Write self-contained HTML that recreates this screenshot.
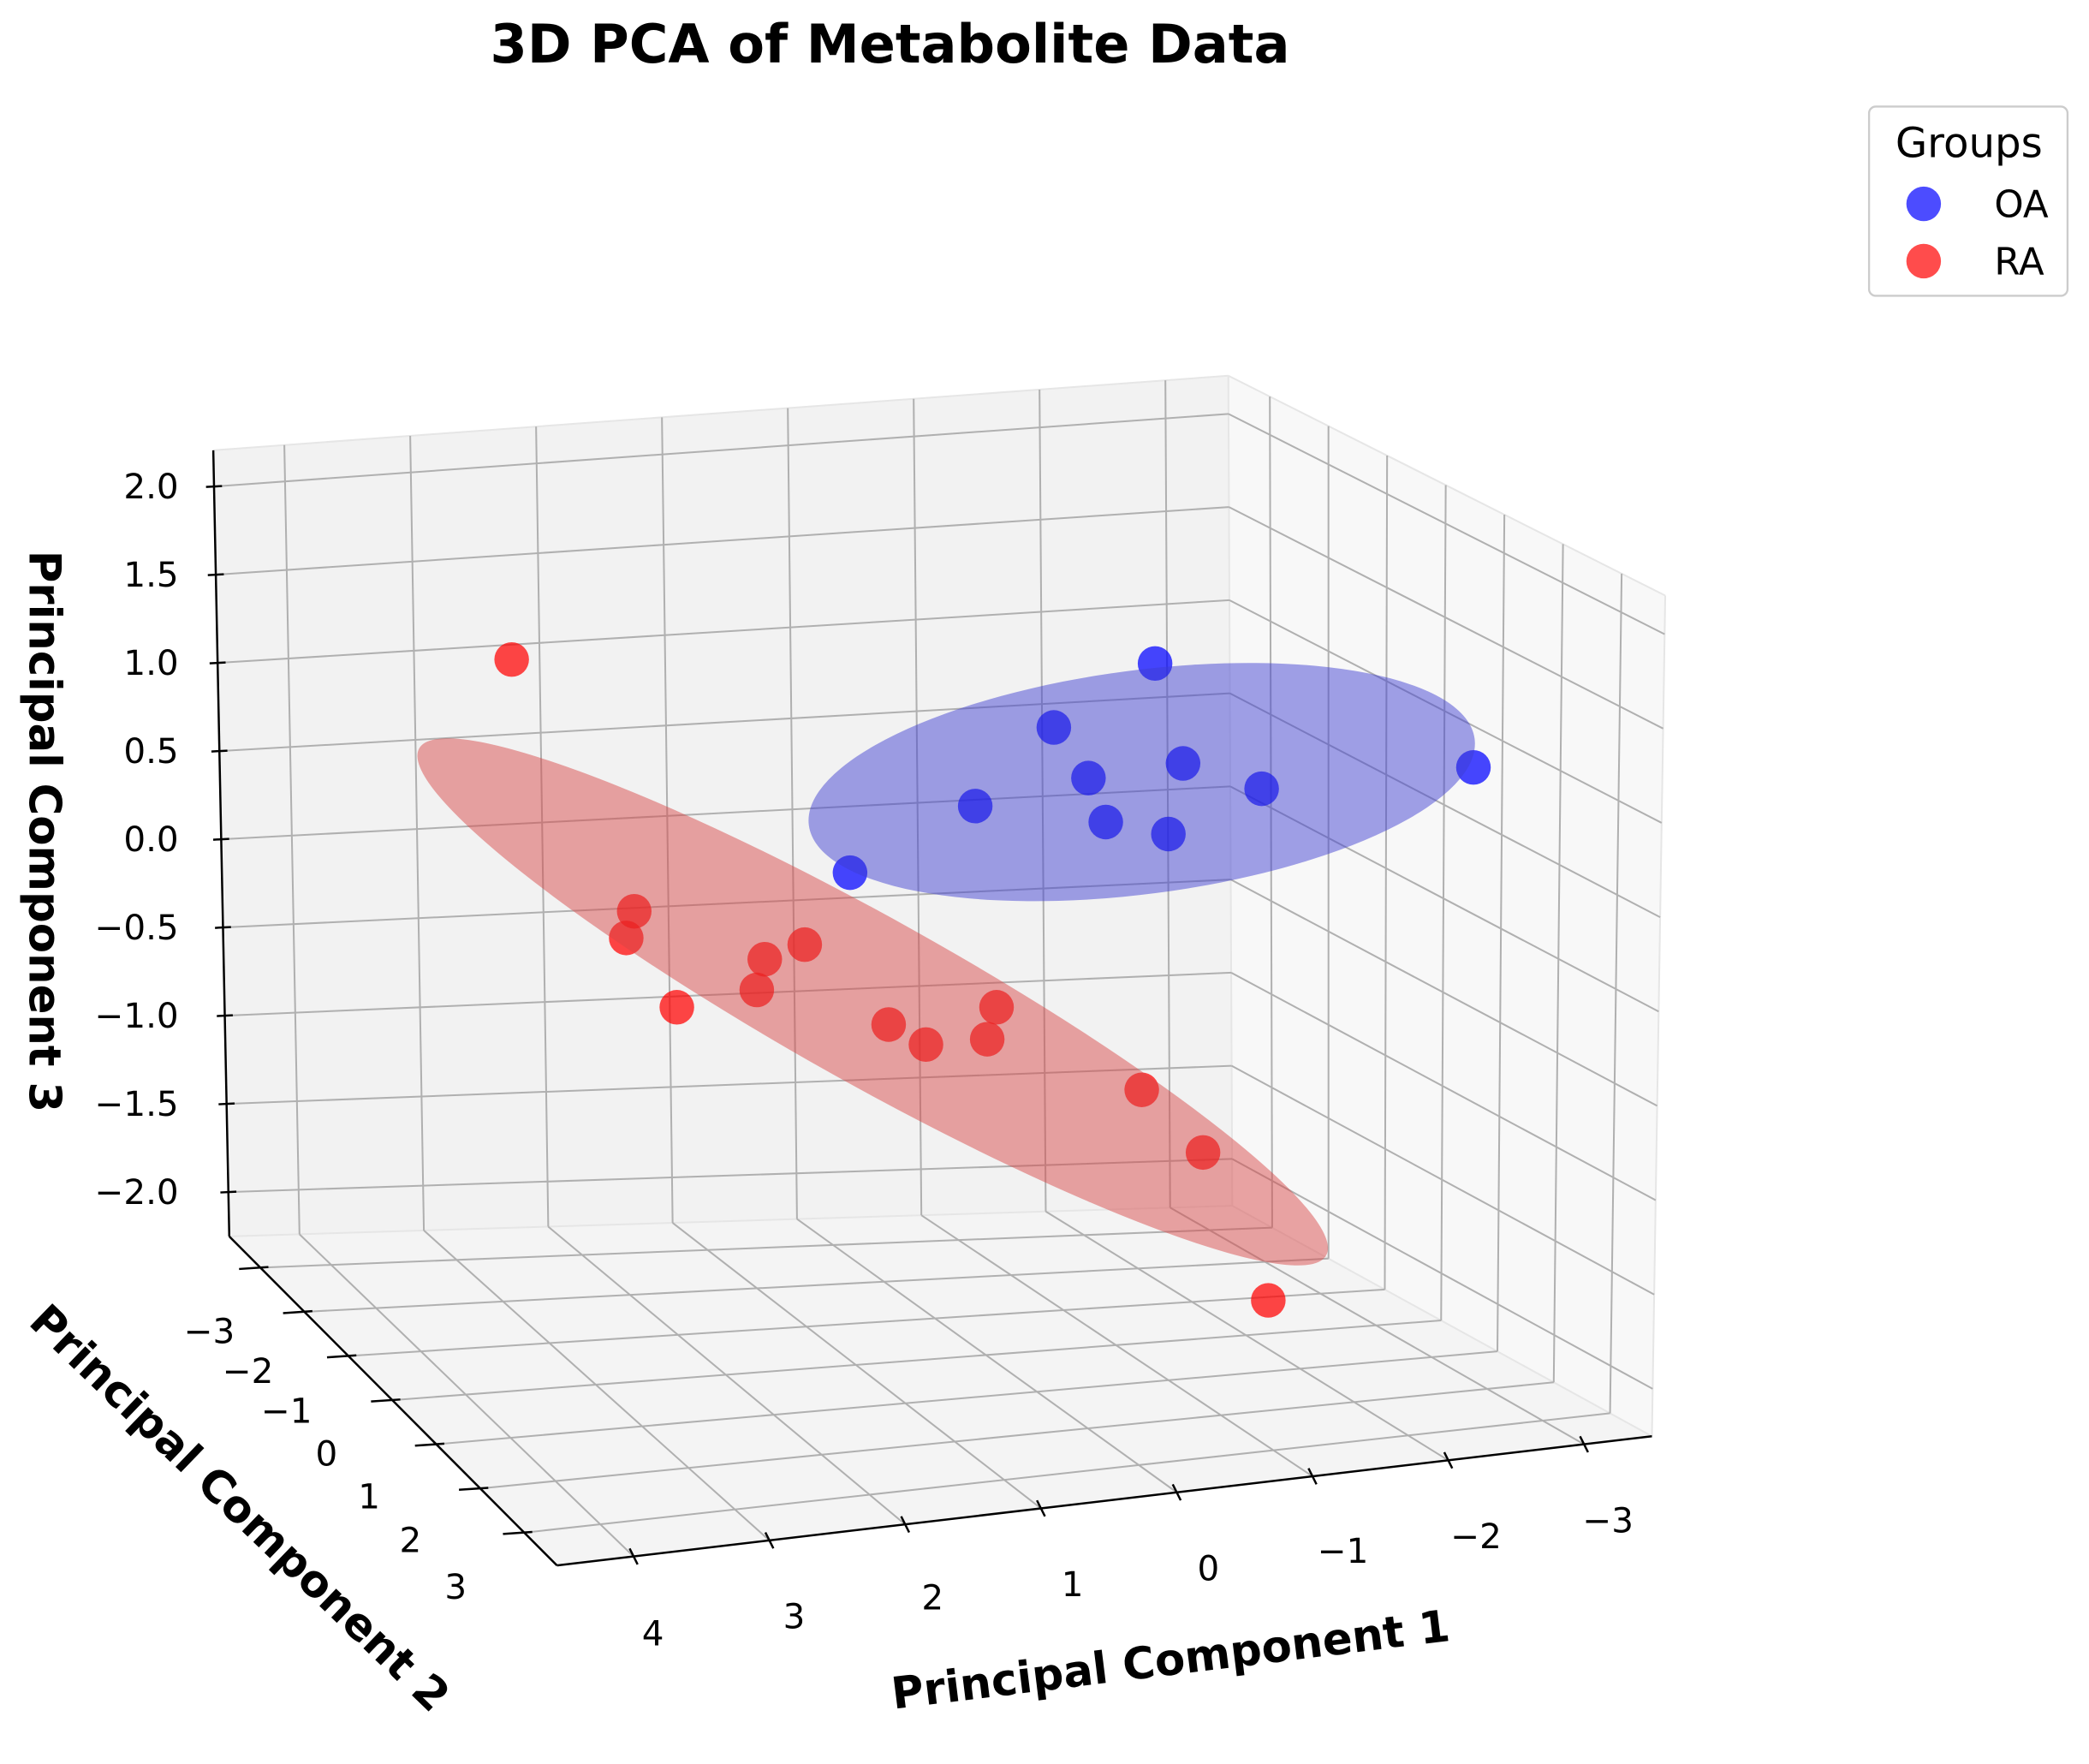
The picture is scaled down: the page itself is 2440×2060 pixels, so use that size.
<!DOCTYPE html>
<html><head><meta charset="utf-8">
<style>
html,body{margin:0;padding:0;background:#fff;}
svg{display:block;}
text{font-family:"DejaVu Sans","Liberation Sans",sans-serif;}
</style></head>
<body>
<svg id="s" width="2440" height="2060" viewBox="0 0 1568 1324" xmlns="http://www.w3.org/2000/svg">
<rect width="1568" height="1324" fill="#fff"/>
<g id="panes"></g>
<g id="grid" stroke="#b0b0b0" stroke-width="1.3" fill="none"></g>
<g id="axes" stroke="#000" stroke-width="1.6" fill="none"></g>
<g id="labels" font-size="26" fill="#000"></g>
<g id="pts"></g>
<g>
<ellipse cx="655" cy="752" rx="390" ry="62" transform="rotate(29.2 655 752)" fill="rgb(215,70,70)" fill-opacity="0.48"/>
<ellipse cx="857" cy="587" rx="252" ry="84" transform="rotate(-7.4 857 587)" fill="rgb(60,60,210)" fill-opacity="0.48"/>
</g>
<text x="668" y="47" font-size="40" font-weight="bold" text-anchor="middle">3D PCA of Metabolite Data</text>
<text transform="translate(22,624) rotate(90)" font-size="33" font-weight="bold" text-anchor="middle">Principal Component 3</text>
<text transform="translate(172,1140) rotate(44)" font-size="33" font-weight="bold" text-anchor="middle">Principal Component 2</text>
<text transform="translate(880,1257) rotate(-7)" font-size="33" font-weight="bold" text-anchor="middle">Principal Component 1</text>
<rect x="1403" y="80" width="149" height="142" rx="5" fill="#fff" stroke="#ccc" stroke-width="1.5"/>
<text x="1478" y="118" font-size="31" text-anchor="middle">Groups</text>
<circle cx="1444" cy="153" r="13" fill="#0000ff" fill-opacity="0.7"/>
<text x="1497" y="163" font-size="28">OA</text>
<circle cx="1444" cy="196" r="13" fill="#ff0000" fill-opacity="0.7"/>
<text x="1497" y="206" font-size="28">RA</text>
</svg>
<script>
var NS="http://www.w3.org/2000/svg";
function el(p,t,a,txt){var e=document.createElementNS(NS,t);for(var k in a)e.setAttribute(k,a[k]);if(txt!==undefined)e.textContent=txt;document.getElementById(p).appendChild(e);return e;}
function L(a,b,f){return [a[0]+(b[0]-a[0])*f,a[1]+(b[1]-a[1])*f];}
function line(p,a,b,extra){var o={x1:a[0],y1:a[1],x2:b[0],y2:b[1]};for(var k in extra)o[k]=extra[k];el(p,"line",o);}
var A=[160,338],B=[922,282],C=[925,905],D=[172,928],E=[1250,447],F=[1240,1078],G=[418,1175];
function poly(pts,fill){el("panes","polygon",{points:pts.map(function(p){return p.join(",")}).join(" "),fill:fill});}
poly([A,B,C,D],"#f2f2f2");poly([B,E,F,C],"#f8f8f8");poly([D,C,F,G],"#f4f4f4");
line("grid",A,B,{stroke:"#e6e6e6"});line("grid",B,E,{stroke:"#e6e6e6"});line("grid",E,F,{stroke:"#e6e6e6"});line("grid",B,C,{stroke:"#e6e6e6"});line("grid",D,C,{stroke:"#e6e6e6"});line("grid",C,F,{stroke:"#e6e6e6"});
var zl=["2.0","1.5","1.0","0.5","0.0","\u22120.5","\u22121.0","\u22121.5","\u22122.0"];
for(var k=0;k<9;k++){var f=0.046+k*0.1122;var p1=L(A,D,f),p2=L(B,C,f),p3=L(E,F,f);
line("grid",p1,p2);line("grid",p2,p3);
line("axes",[p1[0]-6,p1[1]+0.3],[p1[0]+6,p1[1]-0.3]);
el("labels","text",{x:134,y:p1[1]+9,"text-anchor":"end"},zl[k]);}
var xl=["4","3","2","1","0","\u22121","\u22122","\u22123"];
var xlp=[[490,1235],[596,1222],[700,1208],[805,1198],[907,1186],[1008,1173],[1108,1162],[1207,1150]];
for(var i=0;i<8;i++){var f=0.07+i*0.124;var a=L(A,B,f),d=L(D,C,f),g=L(G,F,f);
line("grid",a,d);line("grid",d,g);
line("axes",[g[0]-3,g[1]-6],[g[0]+3,g[1]+6]);
el("labels","text",{x:xlp[i][0],y:xlp[i][1],"text-anchor":"middle"},xl[i]);}
var yl=["\u22123","\u22122","\u22121","0","1","2","3"];
var ylp=[[157,1008],[186,1038],[215,1068],[245,1100],[277,1132],[308,1165],[342,1200]];
for(var j=0;j<7;j++){var f=0.095+j*0.1342;var b=L(B,E,f),c=L(C,F,f),d=L(D,G,f);
line("grid",b,c);line("grid",d,c);
line("axes",[d[0]-16,d[1]+1],[d[0]+6,d[1]-0.5]);
el("labels","text",{x:ylp[j][0],y:ylp[j][1],"text-anchor":"middle"},yl[j]);}
line("axes",A,D);line("axes",D,G);line("axes",G,F);
var blue=[[867,498],[791,546],[817,584],[888,573],[732,605],[830,617],[877,626],[947,592],[1106,576],[638,655]];
var red=[[384,495],[476,684],[470,704],[574,720],[604,709],[568,743],[508,756],[667,769],[695,784],[748,756],[741,780],[857,818],[903,865],[952,976]];
blue.forEach(function(p){el("pts","circle",{cx:p[0],cy:p[1],r:13,fill:"#0000ff","fill-opacity":0.72});});
red.forEach(function(p){el("pts","circle",{cx:p[0],cy:p[1],r:13,fill:"#ff0000","fill-opacity":0.72});});
</script>
</body></html>
